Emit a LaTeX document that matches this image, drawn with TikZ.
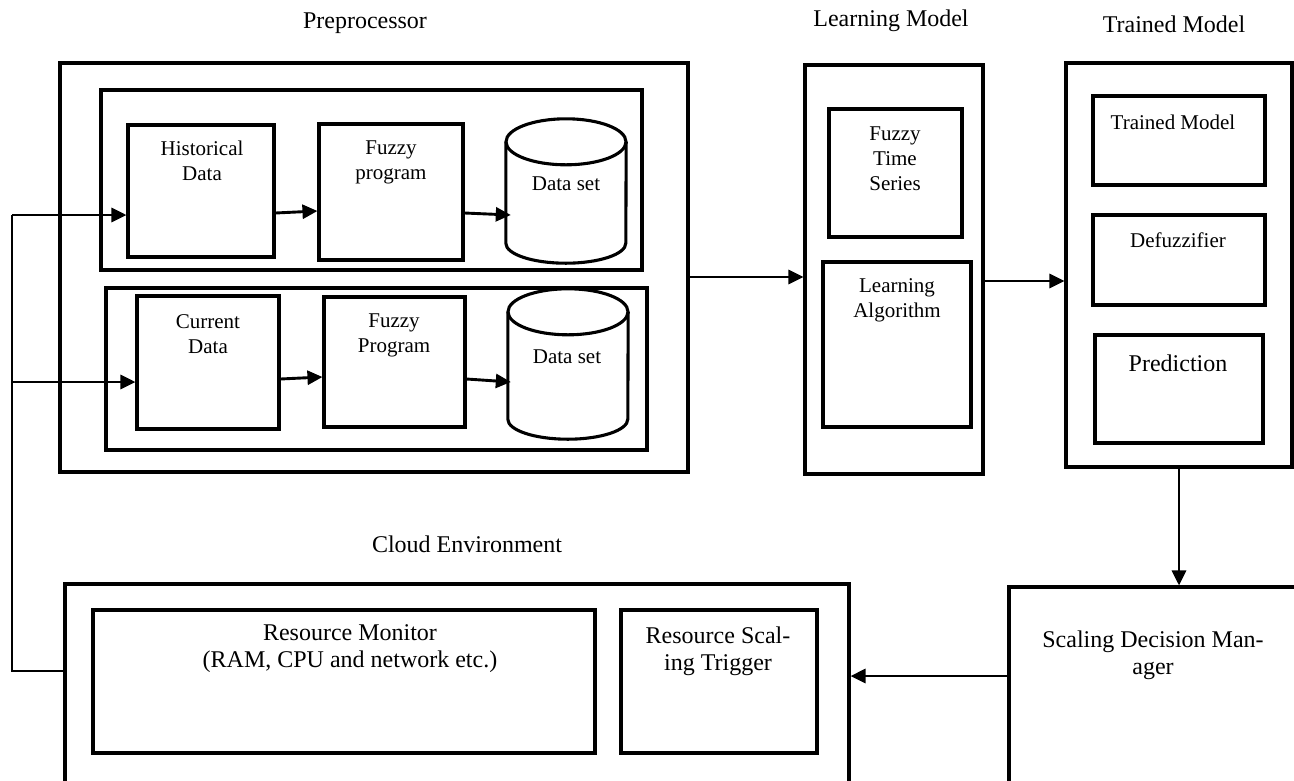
\documentclass[tikz,border=0pt]{standalone}
\usepackage{fontspec}
\setmainfont{Liberation Serif}
\usetikzlibrary{arrows.meta,fit,calc}

\tikzset{
  box/.style={draw, line width=3.1pt, rectangle, inner sep=0pt},
  cylline/.style={draw, line width=3.1pt},
  arr/.style={line width=2.9pt, -{Triangle[length=15pt,width=14pt]}},
  fbline/.style={line width=1.4pt},
  txt/.style={font=\fontsize{21}{25}\selectfont, align=center, inner sep=0pt},
  bigtxt/.style={font=\fontsize{24}{27}\selectfont, align=center, inner sep=0pt},
}

% cylinder (data store) drawn inside the frame of a fitted node
\newcommand\drawdatastore[1]{%
  \draw[cylline] ([yshift=-23pt]#1.north west) -- ([yshift=20pt]#1.south west)
    arc[start angle=180,end angle=360,x radius=60pt,y radius=20pt]
    -- ([yshift=-23pt]#1.north east);
  \draw[cylline] ([yshift=-23pt]#1.north) ellipse[x radius=60pt,y radius=23pt];
}

\begin{document}
\begin{tikzpicture}[x=1pt,y=-1pt]
\clip (0,0) rectangle (1294,780);
\fill[white] (0,0) rectangle (1294,780);

% ---------- titles ----------
\node[bigtxt] (t-pre)   at (365,23)  {Preprocessor};
\node[bigtxt] (t-lm)    at (891,21)  {Learning Model};
\node[bigtxt] (t-tm)    at (1174,24) {Trained Model};
\node[bigtxt] (t-cloud) at (467,544) {Cloud Environment};

% ---------- preprocessor ----------
\node[box, fit={(60,63) (688,472)}]   (pre) {};
\node[box, fit={(101,90) (642,270)}]  (in1) {};
\node[box, fit={(128,125) (274,257)}] (hist) {};
\node[box, fit={(319,124) (463,260)}] (fp1) {};
\node[inner sep=0pt, fit={(506,119) (626,263)}] (ds1) {};
\drawdatastore{ds1}

\node[box, fit={(106,288) (647,450)}] (in2) {};
\node[box, fit={(137,296) (279,429)}] (cur) {};
\node[box, fit={(324,297) (465,427)}] (fp2) {};
\node[inner sep=0pt, fit={(508,289) (628,439)}] (ds2) {};
\drawdatastore{ds2}

\node[txt] (hist-t) at (202,161) {Historical\\Data};
\node[txt] (fp1-t)  at (391,162) {Fuzzy\\program};
\node[txt] (ds1-t)  at (566,184) {Data set};
\node[txt] (cur-t)  at (208,334) {Current\\Data};
\node[txt] (fp2-t)  at (394,335) {Fuzzy\\Program};
\node[txt] (ds2-t)  at (567,357) {Data set};

% ---------- learning model ----------
\node[box, fit={(805,65) (983,474)}]  (lm) {};
\node[box, fit={(829,109) (962,237)}] (fts) {};
\node[box, fit={(823,262) (971,427)}] (la) {};
\node[txt] (fts-t) at (895,159) {Fuzzy\\Time\\Series};
\node[txt] (la-t)  at (897,300) {Learning\\Algorithm};

% ---------- trained model ----------
\node[box, fit={(1066,63) (1292,467)}]  (tm) {};
\node[box, fit={(1093,96) (1265,185)}]  (tmi) {};
\node[box, fit={(1093,215) (1265,305)}] (defz) {};
\node[box, fit={(1095,335) (1263,443)}] (pred) {};
\node[txt]    (tmi-t)  at (1173,122) {Trained Model};
\node[txt]    (defz-t) at (1178,240) {Defuzzifier};
\node[bigtxt] (pred-t) at (1178,363) {Prediction};

% ---------- cloud environment ----------
\node[box, fit={(65,584) (849,800)}]   (cloud) {};
\node[box, fit={(93,610) (595,753)}]   (rm) {};
\node[box, fit={(621,610) (817,753)}]  (rst) {};
\node[box, fit={(1009,587) (1310,800)}] (sdm) {};
\node[bigtxt] (rm-t)  at (350,649)  {Resource Monitor\\(RAM, CPU and network etc.)};
\node[bigtxt] (rst-t) at (718,651)  {Resource Scal-\\ing Trigger};
\node[bigtxt] (sdm-t) at (1153,655) {Scaling Decision Man-\\ager};

% ---------- feedback line ----------
\coordinate (fb1) at (12,215);
\coordinate (fb2) at (12,382);
\coordinate (fbc) at (12,671);
\draw[fbline] (fb1) -- (fbc) -- (fbc -| cloud.west);

% ---------- connectors ----------
\draw[arr] (fb1) -- (fb1 -| hist.west);
\draw[arr] ([yshift=-22pt]hist.east) -- ([yshift=-19pt]fp1.west);
\draw[arr] ([yshift=-21pt]fp1.east) -- ([shift={(5pt,-24pt)}]ds1.west);
\draw[arr] (fb2) -- (fb2 -| cur.west);
\draw[arr] ([yshift=-16.5pt]cur.east) -- ([yshift=-15pt]fp2.west);
\draw[arr] ([yshift=-17pt]fp2.east) -- ([shift={(3pt,-18pt)}]ds2.west);
\draw[arr] ([yshift=-9.5pt]pre.east) -- ([yshift=-9.5pt]pre.east -| lm.west);
\draw[arr] ([yshift=-11.5pt]lm.east) -- ([yshift=-11.5pt]lm.east -| tm.west);
\draw[arr] (tm.south) -- (tm.south |- sdm.north);
\draw[arr] ([yshift=17.5pt]sdm.west) -- ([yshift=17.5pt]sdm.west -| cloud.east);
\end{tikzpicture}
\end{document}
